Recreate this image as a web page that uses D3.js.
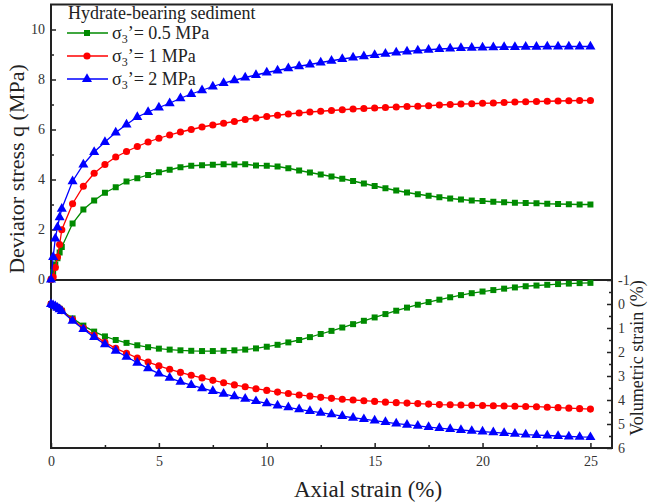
<!DOCTYPE html>
<html>
<head>
<meta charset="utf-8">
<script src="https://cdn.jsdelivr.net/npm/d3@7"></script>
<style>
  body { margin: 0; background: #fff; }
  svg { display: block; }
  text { font-family: "Liberation Serif", "Times New Roman", serif; }
</style>
</head>
<body>
<div id="chart"></div>
<script>
// axial strain (%) of every measured point
const strain = [0, 0.1, 0.2, 0.3, 0.4, 0.5, 1, 1.5, 2, 2.5, 3, 3.5, 4, 4.5, 5, 5.5, 6, 6.5, 7, 7.5,
  8, 8.5, 9, 9.5, 10, 10.5, 11, 11.5, 12, 12.5, 13, 13.5, 14, 14.5, 15, 15.5, 16, 16.5, 17, 17.5,
  18, 18.5, 19, 19.5, 20, 20.5, 21, 21.5, 22, 22.5, 23, 23.5, 24, 24.5, 25];

// deviator stress q (MPa)
const q05 = [0, 0.3, 0.6, 0.85, 1.08, 1.3, 2.24, 2.8, 3.16, 3.47, 3.69, 3.92, 4.05, 4.18, 4.29, 4.39, 4.49, 4.55, 4.57, 4.59,
  4.61, 4.60, 4.61, 4.56, 4.55, 4.52, 4.45, 4.36, 4.28, 4.2, 4.12, 4.03, 3.94, 3.84, 3.74, 3.65, 3.56, 3.48, 3.41, 3.35,
  3.29, 3.24, 3.2, 3.16, 3.14, 3.11, 3.09, 3.07, 3.06, 3.05, 3.03, 3.02, 3.01, 3.0, 3.0];
const q1 = [0, 0.1, 0.48, 0.9, 1.4, 1.99, 3.03, 3.73, 4.25, 4.6, 4.9, 5.12, 5.32, 5.5, 5.65, 5.78, 5.9, 6.0, 6.1, 6.18,
  6.25, 6.32, 6.4, 6.46, 6.52, 6.57, 6.62, 6.66, 6.7, 6.73, 6.76, 6.79, 6.82, 6.84, 6.86, 6.88, 6.9, 6.92, 6.93, 6.95,
  6.98, 7.0, 7.02, 7.03, 7.05, 7.06, 7.08, 7.1, 7.11, 7.12, 7.13, 7.14, 7.15, 7.16, 7.16];
const q2 = [0, 0.9, 1.64, 2.09, 2.49, 2.83, 3.93, 4.6, 5.1, 5.5, 5.88, 6.2, 6.5, 6.7, 6.88, 7.05, 7.25, 7.42, 7.57, 7.72,
  7.86, 7.97, 8.08, 8.18, 8.28, 8.36, 8.45, 8.53, 8.6, 8.68, 8.75, 8.82, 8.88, 8.93, 8.98, 9.03, 9.08, 9.12, 9.16, 9.19,
  9.22, 9.24, 9.26, 9.27, 9.28, 9.29, 9.3, 9.3, 9.31, 9.31, 9.32, 9.32, 9.32, 9.32, 9.32];

// volumetric strain (%), positive = contraction
const v05 = [0, 0.05, 0.1, 0.15, 0.2, 0.28, 0.6, 0.9, 1.15, 1.35, 1.5, 1.62, 1.72, 1.8, 1.86, 1.9, 1.93, 1.95, 1.96, 1.96,
  1.95, 1.93, 1.9, 1.85, 1.78, 1.7, 1.6, 1.5, 1.38, 1.25, 1.12, 0.98, 0.84, 0.7, 0.56, 0.42, 0.28, 0.15, 0.03, -0.08,
  -0.18, -0.28, -0.37, -0.45, -0.52, -0.58, -0.64, -0.69, -0.74, -0.77, -0.8, -0.83, -0.85, -0.87, -0.88];
const v1 = [0, 0.05, 0.1, 0.15, 0.2, 0.28, 0.65, 1.0, 1.3, 1.6, 1.85, 2.05, 2.25, 2.42, 2.58, 2.72, 2.85, 2.97, 3.08, 3.18,
  3.28, 3.37, 3.45, 3.53, 3.6, 3.67, 3.73, 3.79, 3.84, 3.89, 3.93, 3.97, 4.0, 4.03, 4.06, 4.09, 4.11, 4.13, 4.15, 4.17,
  4.19, 4.2, 4.21, 4.22, 4.23, 4.24, 4.25, 4.26, 4.27, 4.28, 4.3, 4.32, 4.34, 4.36, 4.38];
const v2 = [0, 0.05, 0.1, 0.16, 0.22, 0.3, 0.7, 1.05, 1.38, 1.68, 1.95, 2.2, 2.45, 2.68, 2.9, 3.08, 3.24, 3.38, 3.51, 3.63,
  3.74, 3.85, 3.95, 4.05, 4.14, 4.23, 4.31, 4.39, 4.46, 4.53, 4.6, 4.67, 4.74, 4.8, 4.86, 4.92, 4.98, 5.03, 5.08, 5.13,
  5.17, 5.21, 5.25, 5.29, 5.32, 5.35, 5.38, 5.41, 5.44, 5.46, 5.48, 5.5, 5.52, 5.54, 5.55];

const xTicks = [0, 5, 10, 15, 20, 25];
const xMinor = [2.5, 7.5, 12.5, 17.5, 22.5];
const qTicks = [0, 2, 4, 6, 8, 10];
const qMinor = [1, 3, 5, 7, 9];
const vTicks = [-1, 0, 1, 2, 3, 4, 5, 6];
const vMinor = [-0.5, 0.5, 1.5, 2.5, 3.5, 4.5, 5.5];

const series = [
  { label: "0.5 MPa", color: "#008a00", symbol: d3.symbolSquare, size: 36, q: q05, v: v05 },
  { label: "1 MPa", color: "#ff0000", symbol: d3.symbolCircle, size: 40, q: q1, v: v1 },
  { label: "2 MPa", color: "#0000ff", symbol: d3.symbolTriangle, size: 44, q: q2, v: v2 }
];

const W = 649, H = 504;
const svg = d3.select("#chart").append("svg").attr("width", W).attr("height", H);

const x = d3.scaleLinear().domain([0, 26]).range([51, 612]);
const yq = d3.scaleLinear().domain([0, 11]).range([279.5, 4.5]);
const yv = d3.scaleLinear().domain([-1, 6]).range([280, 448]);

const ink = "#222";
const serif = '"Liberation Serif", "Times New Roman", serif';

// ticks (inward)
function ticks(axis, vals, size, label, tx, ty) {
  const g = svg.append("g")
    .attr("transform", `translate(${tx},${ty})`)
    .call(axis.tickValues(vals).tickSize(-size).tickSizeOuter(0).tickPadding(6)
      .tickFormat(label ? (d => String(d)) : ""));
  g.attr("font-family", serif).attr("font-size", 14);
  g.select(".domain").remove();
  g.selectAll("line").attr("stroke", ink).attr("stroke-width", 1.5);
  g.selectAll("text").attr("fill", "#333");
  return g;
}
ticks(d3.axisLeft(yq), qTicks, 5, true, 51, 0);
ticks(d3.axisLeft(yq), qMinor, 3, false, 51, 0);
ticks(d3.axisBottom(x), xTicks, 5, true, 0, 448).selectAll("text").attr("dy", "0.85em");
ticks(d3.axisBottom(x), xMinor, 3, false, 0, 448);
ticks(d3.axisRight(yv), vTicks, 5, true, 612, 0);
ticks(d3.axisRight(yv), vMinor, 3, false, 612, 0);

// frame
svg.append("path")
  .attr("d", `M${x(0)},${yq(11)}H${x(26)}V${yv(6)}H${x(0)}Z M${x(0)},280H${x(26)}`)
  .attr("fill", "none").attr("stroke", ink).attr("stroke-width", 2);

// curves
const lineQ = d3.line().x((d, i) => x(strain[i])).y(d => yq(d));
const lineV = d3.line().x((d, i) => x(strain[i])).y(d => yv(d));

series.forEach(s => {
  [[s.q, lineQ, yq], [s.v, lineV, yv]].forEach(([vals, line, y]) => {
    svg.append("path").datum(vals).attr("d", line)
      .attr("fill", "none").attr("stroke", s.color).attr("stroke-width", 1.3);
    svg.append("g").selectAll("path").data(vals).enter().append("path")
      .attr("d", d3.symbol().type(s.symbol).size(s.size))
      .attr("transform", (d, i) => `translate(${x(strain[i])},${y(d)})`)
      .attr("fill", s.color);
  });
});

// legend
const lg = svg.append("g");
lg.append("text").attr("x", 68).attr("y", 19).style("font-size", "18px").attr("fill", "#222")
  .text("Hydrate-bearing sediment");
series.forEach((s, i) => {
  const yy = 33 + i * 23;
  lg.append("line").attr("x1", 67).attr("x2", 108).attr("y1", yy).attr("y2", yy)
    .attr("stroke", s.color).attr("stroke-width", 1.3);
  lg.append("path").attr("d", d3.symbol().type(s.symbol).size(s.size))
    .attr("transform", `translate(87,${yy})`).attr("fill", s.color);
  const t = lg.append("text").attr("x", 112).attr("y", yy + 6).style("font-size", "18px").attr("fill", "#222");
  t.append("tspan").text("σ");
  t.append("tspan").attr("dy", 4).style("font-size", "12px").text("3");
  t.append("tspan").attr("dy", -4).text("’= " + s.label);
});

// axis titles
svg.append("text").attr("x", 294).attr("y", 497).style("font-size", "23px").attr("fill", "#222")
  .text("Axial strain (%)");
svg.append("text").attr("transform", "translate(24,169) rotate(-90)").attr("text-anchor", "middle")
  .style("font-size", "22px").attr("fill", "#222").text("Deviator stress q (MPa)");
svg.append("text").attr("transform", "translate(643,358) rotate(-90)").attr("text-anchor", "middle")
  .style("font-size", "18px").attr("fill", "#222").text("Volumetric strain (%)");
</script>
</body>
</html>
